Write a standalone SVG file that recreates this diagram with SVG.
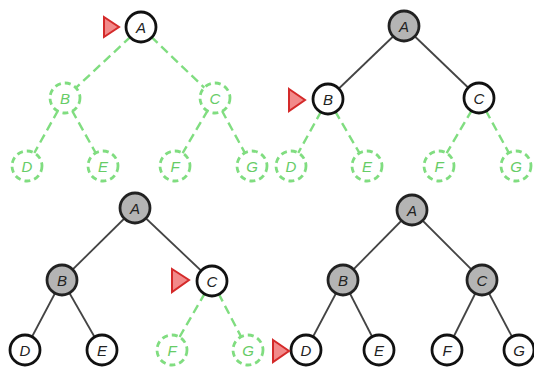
<svg xmlns="http://www.w3.org/2000/svg" width="534" height="369" viewBox="0 0 534 369">
  <style>
    .edge { stroke: #444; stroke-width: 1.8; fill: none; }
    .edge-new { stroke: #80dd80; stroke-width: 2.4; stroke-dasharray: 9 5; fill: none; }
    .node circle { stroke-width: 2.8; }
    .seen circle { fill: #b4b4b4; stroke: #222; }
    .open circle { fill: #fff; stroke: #111; }
    .unseen circle { fill: #fff; stroke: #80dd80; stroke-dasharray: 6 4; }
    .node text { font-family: "Liberation Sans", Arial, sans-serif; font-style: italic; font-size: 15px; text-anchor: middle; dominant-baseline: central; }
    .seen text, .open text { fill: #222; }
    .unseen text { fill: #66cc66; }
    .cursor { fill: #f28a8a; stroke: #d42a2a; stroke-width: 2; stroke-linejoin: miter; }
  </style>

  <!-- Step 1: visiting A -->
  <g id="connectors-1">
    <line class="edge-new" x1="141" y1="27" x2="65" y2="98"/>
    <line class="edge-new" x1="141" y1="27" x2="215" y2="98"/>
    <line class="edge-new" x1="65" y1="98" x2="27" y2="166"/>
    <line class="edge-new" x1="65" y1="98" x2="103" y2="166"/>
    <line class="edge-new" x1="215" y1="98" x2="175" y2="166"/>
    <line class="edge-new" x1="215" y1="98" x2="252" y2="166"/>
  </g>
  <g id="s1-A" class="node open"><circle cx="141" cy="27" r="15"/><text x="141" y="27">A</text></g>
  <g id="s1-B" class="node unseen"><circle cx="65" cy="98" r="15"/><text x="65" y="98">B</text></g>
  <g id="s1-C" class="node unseen"><circle cx="215" cy="98" r="15"/><text x="215" y="98">C</text></g>
  <g id="s1-D" class="node unseen"><circle cx="27" cy="166" r="15"/><text x="27" y="166">D</text></g>
  <g id="s1-E" class="node unseen"><circle cx="103" cy="166" r="15"/><text x="103" y="166">E</text></g>
  <g id="s1-F" class="node unseen"><circle cx="175" cy="166" r="15"/><text x="175" y="166">F</text></g>
  <g id="s1-G" class="node unseen"><circle cx="252" cy="166" r="15"/><text x="252" y="166">G</text></g>
  <polygon id="s1-cursor" class="cursor" points="104,17 119,27 104,37"/>

  <!-- Step 2: visiting B -->
  <g id="connectors-2">
    <line class="edge" x1="404" y1="26" x2="328" y2="99"/>
    <line class="edge" x1="404" y1="26" x2="479" y2="98"/>
    <line class="edge-new" x1="328" y1="99" x2="291" y2="166"/>
    <line class="edge-new" x1="328" y1="99" x2="367" y2="166"/>
    <line class="edge-new" x1="479" y1="98" x2="439" y2="166"/>
    <line class="edge-new" x1="479" y1="98" x2="516" y2="166"/>
  </g>
  <g id="s2-A" class="node seen"><circle cx="404" cy="26" r="15"/><text x="404" y="26">A</text></g>
  <g id="s2-B" class="node open"><circle cx="328" cy="99" r="15"/><text x="328" y="99">B</text></g>
  <g id="s2-C" class="node open"><circle cx="479" cy="98" r="15"/><text x="479" y="98">C</text></g>
  <g id="s2-D" class="node unseen"><circle cx="291" cy="166" r="15"/><text x="291" y="166">D</text></g>
  <g id="s2-E" class="node unseen"><circle cx="367" cy="166" r="15"/><text x="367" y="166">E</text></g>
  <g id="s2-F" class="node unseen"><circle cx="439" cy="166" r="15"/><text x="439" y="166">F</text></g>
  <g id="s2-G" class="node unseen"><circle cx="516" cy="166" r="15"/><text x="516" y="166">G</text></g>
  <polygon id="s2-cursor" class="cursor" points="289,89 305,100 289,111"/>

  <!-- Step 3: visiting C -->
  <g id="connectors-3">
    <line class="edge" x1="135" y1="208" x2="62" y2="280"/>
    <line class="edge" x1="135" y1="208" x2="212" y2="281"/>
    <line class="edge" x1="62" y1="280" x2="25" y2="350"/>
    <line class="edge" x1="62" y1="280" x2="102" y2="350"/>
    <line class="edge-new" x1="212" y1="281" x2="172" y2="350"/>
    <line class="edge-new" x1="212" y1="281" x2="248" y2="350"/>
  </g>
  <g id="s3-A" class="node seen"><circle cx="135" cy="208" r="15"/><text x="135" y="208">A</text></g>
  <g id="s3-B" class="node seen"><circle cx="62" cy="280" r="15"/><text x="62" y="280">B</text></g>
  <g id="s3-C" class="node open"><circle cx="212" cy="281" r="15"/><text x="212" y="281">C</text></g>
  <g id="s3-D" class="node open"><circle cx="25" cy="350" r="15"/><text x="25" y="350">D</text></g>
  <g id="s3-E" class="node open"><circle cx="102" cy="350" r="15"/><text x="102" y="350">E</text></g>
  <g id="s3-F" class="node unseen"><circle cx="172" cy="350" r="15"/><text x="172" y="350">F</text></g>
  <g id="s3-G" class="node unseen"><circle cx="248" cy="350" r="15"/><text x="248" y="350">G</text></g>
  <polygon id="s3-cursor" class="cursor" points="172,269 189,280 172,292"/>

  <!-- Step 4: visiting D -->
  <g id="connectors-4">
    <line class="edge" x1="412" y1="210" x2="343" y2="280"/>
    <line class="edge" x1="412" y1="210" x2="482" y2="280"/>
    <line class="edge" x1="343" y1="280" x2="306" y2="350"/>
    <line class="edge" x1="343" y1="280" x2="379" y2="350"/>
    <line class="edge" x1="482" y1="280" x2="447" y2="350"/>
    <line class="edge" x1="482" y1="280" x2="519" y2="350"/>
  </g>
  <g id="s4-A" class="node seen"><circle cx="412" cy="210" r="15"/><text x="412" y="210">A</text></g>
  <g id="s4-B" class="node seen"><circle cx="343" cy="280" r="15"/><text x="343" y="280">B</text></g>
  <g id="s4-C" class="node seen"><circle cx="482" cy="280" r="15"/><text x="482" y="280">C</text></g>
  <g id="s4-D" class="node open"><circle cx="306" cy="350" r="15"/><text x="306" y="350">D</text></g>
  <g id="s4-E" class="node open"><circle cx="379" cy="350" r="15"/><text x="379" y="350">E</text></g>
  <g id="s4-F" class="node open"><circle cx="447" cy="350" r="15"/><text x="447" y="350">F</text></g>
  <g id="s4-G" class="node open"><circle cx="519" cy="350" r="15"/><text x="519" y="350">G</text></g>
  <polygon id="s4-cursor" class="cursor" points="273,340 289,351 273,362"/>
</svg>
